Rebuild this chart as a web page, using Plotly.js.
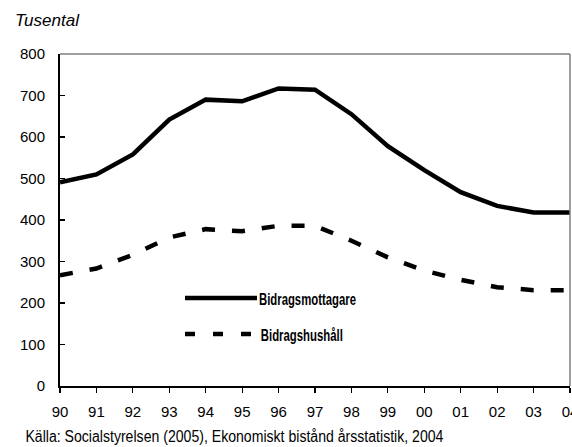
<!DOCTYPE html>
<html>
<head>
<meta charset="utf-8">
<script src="https://cdn.plot.ly/plotly-2.35.2.min.js"></script>
<style>html,body{margin:0;padding:0;background:#fff;}#chart{width:572px;height:447px;}</style>
</head>
<body>
<div id="chart"></div>
<script>
const years = ["90","91","92","93","94","95","96","97","98","99","00","01","02","03","04"];
const bidragsmottagare = [491, 510, 558, 642, 690, 686, 717, 714, 655, 578, 520, 467, 434, 418, 418];
const bidragshushall = [267, 283, 316, 358, 378, 373, 386, 386, 350, 310, 278, 256, 238, 231, 231];
const seriesNames = ["Bidragsmottagare", "Bidragshushåll"];
const sourceText = "Källa: Socialstyrelsen (2005), Ekonomiskt bistånd årsstatistik, 2004";

const idx = years.map((_, i) => i);
const sans = "Liberation Sans, Arial, sans-serif";

const traces = [
  {x: idx, y: bidragsmottagare, type: 'scatter', mode: 'lines', name: seriesNames[0],
   line: {color: '#000', width: 4.5}, showlegend: false, hoverinfo: 'none'},
  {x: idx, y: bidragshushall, type: 'scatter', mode: 'lines', name: seriesNames[1],
   line: {color: '#000', width: 4.5, dash: '13px,17px'}, showlegend: false, hoverinfo: 'none'}
];

const px = v => (v - 60) / 510;
const py = v => (386 - v) / 332;

const layout = {
  width: 572, height: 447,
  margin: {l: 60, r: 2, t: 54, b: 61},
  paper_bgcolor: '#fff', plot_bgcolor: '#fff',
  showlegend: false,
  font: {family: sans, color: '#000', size: 15},
  xaxis: {
    range: [0, years.length - 1], tickvals: idx, ticktext: years,
    ticks: 'outside', ticklen: 5, tickwidth: 1.2, tickcolor: '#000',
    showline: true, linecolor: '#000', linewidth: 2,
    showgrid: false, zeroline: false, fixedrange: true,
    ticklabeloverflow: 'allow',
    tickfont: {family: sans, size: 15, color: '#000'}, ticklabelstandoff: 6
  },
  xaxis2: {
    overlaying: 'x', anchor: 'y', side: 'bottom',
    range: [0, years.length - 1], tickvals: idx,
    ticks: 'inside', ticklen: 4, tickwidth: 1.2, tickcolor: '#000',
    showticklabels: false, showline: false, showgrid: false, zeroline: false
  },
  yaxis: {
    range: [0, 800], dtick: 100, tick0: 0,
    ticks: 'inside', ticklen: 5, tickwidth: 1.2, tickcolor: '#000',
    showline: true, linecolor: '#000', linewidth: 2,
    showgrid: false, zeroline: false, fixedrange: true,
    tickfont: {family: sans, size: 15, color: '#000'}, ticklabelstandoff: 10
  },
  shapes: [
    {type: 'line', xref: 'paper', yref: 'paper', x0: 0, x1: 1, y0: 1, y1: 1, line: {color: '#808080', width: 1.5}},
    {type: 'line', xref: 'paper', yref: 'paper', x0: 1, x1: 1, y0: 0, y1: 1, line: {color: '#808080', width: 1.5}},
    {type: 'line', xref: 'paper', yref: 'paper', x0: px(185), x1: px(257), y0: py(298), y1: py(298), line: {color: '#000', width: 4.5}},
    {type: 'line', xref: 'paper', yref: 'paper', x0: px(185), x1: px(251), y0: py(334), y1: py(334), line: {color: '#000', width: 4.5, dash: '10px,18px'}}
  ],
  annotations: [
    {text: 'Tusental', xref: 'paper', yref: 'paper', x: px(13), y: py(20), xanchor: 'left', yanchor: 'middle', showarrow: false,
     font: {family: sans, size: 17, color: '#000', style: 'italic'}},
    {text: '<b>' + seriesNames[0] + '</b>', xref: 'paper', yref: 'paper', x: px(307.5), y: py(299), xanchor: 'center', yanchor: 'middle', showarrow: false,
     font: {family: sans, size: 16, color: '#000'}},
    {text: '<b>' + seriesNames[1] + '</b>', xref: 'paper', yref: 'paper', x: px(302), y: py(335), xanchor: 'center', yanchor: 'middle', showarrow: false,
     font: {family: sans, size: 16, color: '#000'}},
    {text: sourceText, xref: 'paper', yref: 'paper', x: px(234), y: py(437), xanchor: 'center', yanchor: 'middle', showarrow: false,
     font: {family: sans, size: 16, color: '#000'}}
  ]
};

const stretch = {};
stretch[seriesNames[0]] = 97;
stretch[seriesNames[1]] = 82;
stretch[sourceText] = 418;

Plotly.newPlot('chart', traces, layout, {displayModeBar: false, staticPlot: true}).then(gd => {
  gd.querySelectorAll('.annotation-text').forEach(t => {
    const L = stretch[t.textContent];
    if (L) {
      t.setAttribute('textLength', L);
      t.setAttribute('lengthAdjust', 'spacingAndGlyphs');
    }
  });
});
</script>
</body>
</html>
